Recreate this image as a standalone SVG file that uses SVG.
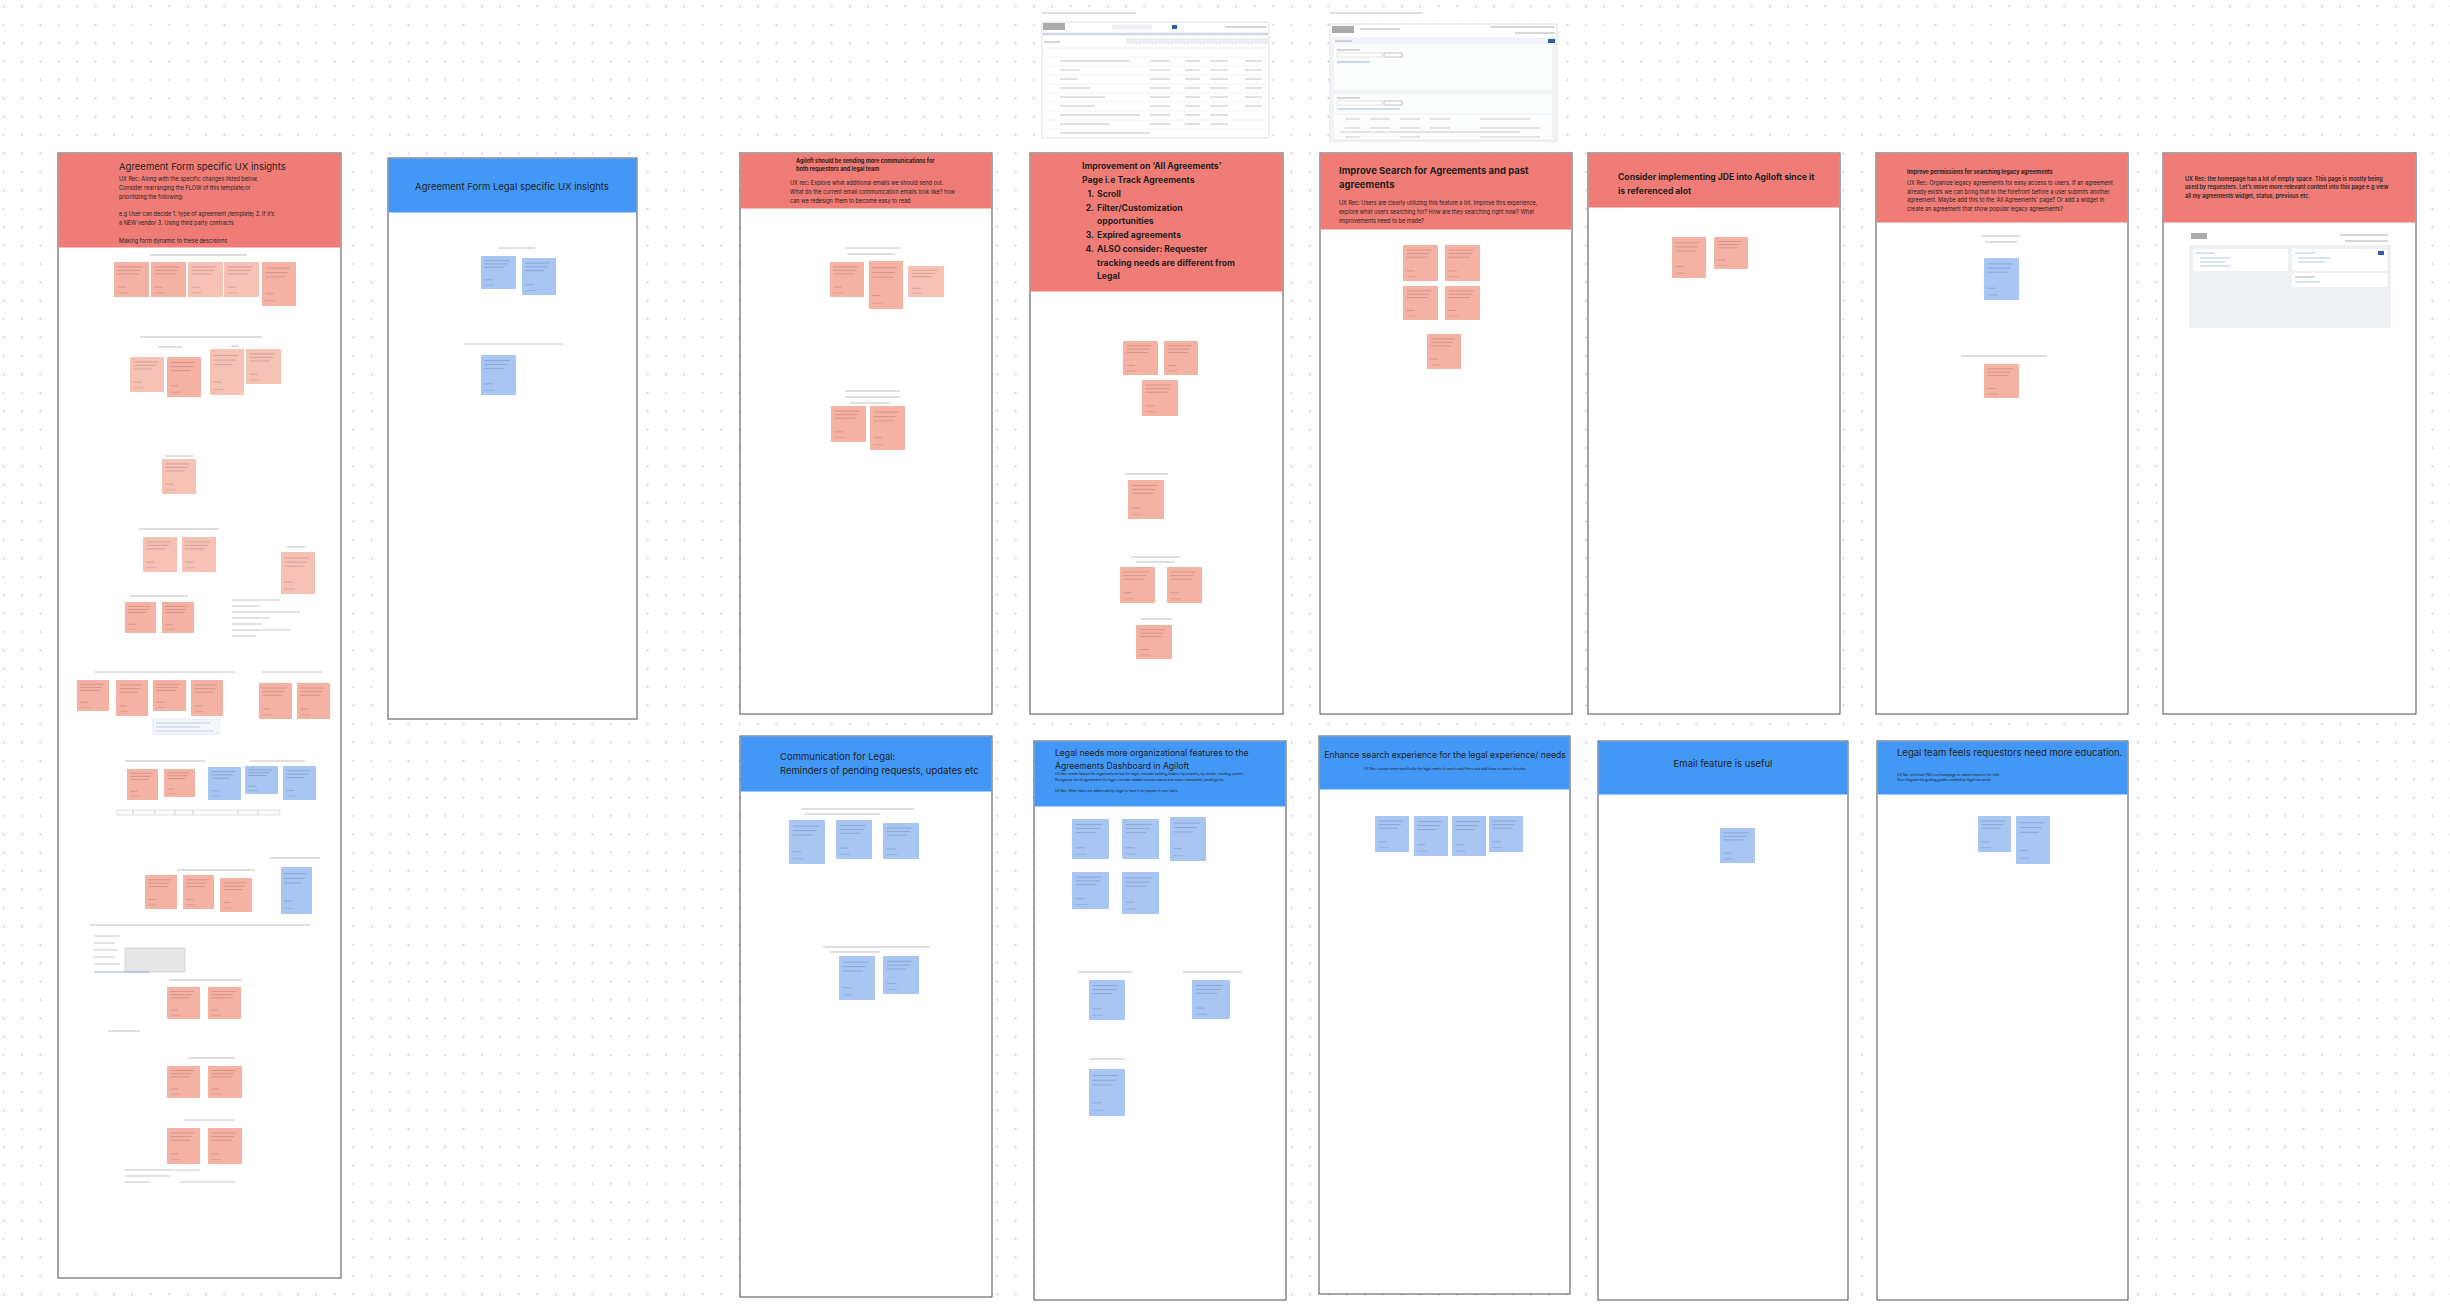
<svg xmlns="http://www.w3.org/2000/svg" xmlns:xlink="http://www.w3.org/1999/xlink" width="2450" height="1310" viewBox="0 0 2450 1310">
<style>
.frame{fill:#ffffff;stroke:#4d4d4d;stroke-width:1}
.hr{fill:#F07C77}
.hb{fill:#4398F6}
.t{font-family:Inter,'Liberation Sans',sans-serif;fill:#1e1e1e}
.h9{font-size:9.5px}
.h8{font-size:8.6px}
.s5{font-size:5.5px}
.s3{font-size:3.3px}
.bd{font-weight:700}
.sb{font-weight:600}
.cap{stroke:#8a8a8a;stroke-width:1;opacity:.55}
.ln{stroke:#9a9a9a;stroke-width:.8}
.sh{fill:#ffffff;stroke:#d8d8d8;stroke-width:.8}
</style>
<defs>
<pattern id="dots" x="-5.6" y="-2.9" width="18.4" height="18.4" patternUnits="userSpaceOnUse"><circle cx="9.2" cy="9.2" r="1" fill="#c4c4c4"/></pattern>
<symbol id="stR" viewBox="0 0 100 100" preserveAspectRatio="none"><rect x="0" y="0" width="100" height="100" fill="#F4B2A5"/><g stroke="#7a3f36" stroke-opacity=".35" vector-effect="non-scaling-stroke"><line x1="10" y1="14" x2="82" y2="14" vector-effect="non-scaling-stroke" stroke-width=".7"/><line x1="10" y1="24" x2="76" y2="24" vector-effect="non-scaling-stroke" stroke-width=".7"/><line x1="10" y1="34" x2="70" y2="34" vector-effect="non-scaling-stroke" stroke-width=".7"/><line x1="10" y1="72" x2="34" y2="72" vector-effect="non-scaling-stroke" stroke-width=".7"/><line x1="10" y1="88" x2="40" y2="88" vector-effect="non-scaling-stroke" stroke-width=".5"/></g></symbol>
<symbol id="stL" viewBox="0 0 100 100" preserveAspectRatio="none"><rect x="0" y="0" width="100" height="100" fill="#F6C2B6"/><g stroke="#7a3f36" stroke-opacity=".35"><line x1="10" y1="14" x2="82" y2="14" vector-effect="non-scaling-stroke" stroke-width=".7"/><line x1="10" y1="24" x2="76" y2="24" vector-effect="non-scaling-stroke" stroke-width=".7"/><line x1="10" y1="34" x2="66" y2="34" vector-effect="non-scaling-stroke" stroke-width=".7"/><line x1="10" y1="72" x2="34" y2="72" vector-effect="non-scaling-stroke" stroke-width=".7"/><line x1="10" y1="88" x2="40" y2="88" vector-effect="non-scaling-stroke" stroke-width=".5"/></g></symbol>
<symbol id="stB" viewBox="0 0 100 100" preserveAspectRatio="none"><rect x="0" y="0" width="100" height="100" fill="#A9C6F3"/><g stroke="#2d4a7a" stroke-opacity=".35"><line x1="10" y1="14" x2="82" y2="14" vector-effect="non-scaling-stroke" stroke-width=".7"/><line x1="10" y1="24" x2="76" y2="24" vector-effect="non-scaling-stroke" stroke-width=".7"/><line x1="10" y1="34" x2="66" y2="34" vector-effect="non-scaling-stroke" stroke-width=".7"/><line x1="10" y1="72" x2="34" y2="72" vector-effect="non-scaling-stroke" stroke-width=".7"/><line x1="10" y1="88" x2="40" y2="88" vector-effect="non-scaling-stroke" stroke-width=".5"/></g></symbol>
</defs>
<rect width="2450" height="1310" fill="#ffffff"/>
<rect width="2450" height="1310" fill="url(#dots)"/>

<!-- Top screenshots -->
<g id="screenshot-1">
<line class="cap" x1="1042" y1="13" x2="1136" y2="13"/>
<rect class="sh" x="1042" y="22" width="227" height="116"/>
<rect x="1043" y="23" width="22" height="7" fill="#555" opacity=".5"/>
<rect x="1112" y="25" width="40" height="4" fill="#eceef2"/>
<rect x="1172" y="25" width="5" height="4" fill="#2f5ea8"/>
<line class="ln" x1="1225" y1="27" x2="1267" y2="27"/>
<line x1="1043" y1="34" x2="1268" y2="34" stroke="#cfd6e2" stroke-width="2.5"/>
<g fill="#eef1f6" stroke="#c9cfd9" stroke-width=".5"><rect x="1127" y="39" width="14" height="4"/><rect x="1143" y="39" width="14" height="4"/><rect x="1159" y="39" width="14" height="4"/><rect x="1175" y="39" width="14" height="4"/><rect x="1191" y="39" width="14" height="4"/><rect x="1207" y="39" width="14" height="4"/><rect x="1223" y="39" width="14" height="4"/><rect x="1239" y="39" width="14" height="4"/><rect x="1255" y="39" width="12" height="4"/></g>
<line class="ln" x1="1044" y1="42" x2="1060" y2="42"/>
<line x1="1044" y1="48" x2="1268" y2="48" stroke="#ddd" stroke-width=".5"/>
<g stroke="#e6e6e6" stroke-width=".5"><line x1="1044" y1="57" x2="1268" y2="57"/><line x1="1044" y1="66" x2="1268" y2="66"/><line x1="1044" y1="75" x2="1268" y2="75"/><line x1="1044" y1="84" x2="1268" y2="84"/><line x1="1044" y1="93" x2="1268" y2="93"/><line x1="1044" y1="102" x2="1268" y2="102"/><line x1="1044" y1="111" x2="1268" y2="111"/><line x1="1044" y1="120" x2="1268" y2="120"/><line x1="1044" y1="129" x2="1268" y2="129"/></g>
<g stroke="#a8a8a8" stroke-width=".7"><line x1="1060" y1="61" x2="1130" y2="61"/><line x1="1060" y1="70" x2="1080" y2="70"/><line x1="1060" y1="79" x2="1078" y2="79"/><line x1="1060" y1="88" x2="1090" y2="88"/><line x1="1060" y1="97" x2="1105" y2="97"/><line x1="1060" y1="106" x2="1095" y2="106"/><line x1="1060" y1="115" x2="1140" y2="115"/><line x1="1060" y1="124" x2="1110" y2="124"/><line x1="1060" y1="133" x2="1150" y2="133"/><line x1="1150" y1="61" x2="1170" y2="61"/><line x1="1150" y1="70" x2="1170" y2="70"/><line x1="1150" y1="79" x2="1170" y2="79"/><line x1="1150" y1="88" x2="1170" y2="88"/><line x1="1150" y1="97" x2="1170" y2="97"/><line x1="1150" y1="106" x2="1170" y2="106"/><line x1="1150" y1="115" x2="1170" y2="115"/><line x1="1150" y1="124" x2="1170" y2="124"/><line x1="1185" y1="61" x2="1200" y2="61"/><line x1="1185" y1="70" x2="1200" y2="70"/><line x1="1185" y1="79" x2="1200" y2="79"/><line x1="1185" y1="88" x2="1200" y2="88"/><line x1="1185" y1="97" x2="1200" y2="97"/><line x1="1185" y1="106" x2="1200" y2="106"/><line x1="1185" y1="115" x2="1200" y2="115"/><line x1="1185" y1="124" x2="1200" y2="124"/><line x1="1210" y1="61" x2="1228" y2="61"/><line x1="1210" y1="70" x2="1228" y2="70"/><line x1="1210" y1="79" x2="1228" y2="79"/><line x1="1210" y1="88" x2="1228" y2="88"/><line x1="1210" y1="97" x2="1228" y2="97"/><line x1="1210" y1="106" x2="1228" y2="106"/><line x1="1210" y1="115" x2="1228" y2="115"/><line x1="1210" y1="124" x2="1228" y2="124"/><line x1="1245" y1="61" x2="1262" y2="61"/><line x1="1245" y1="70" x2="1262" y2="70"/><line x1="1245" y1="79" x2="1262" y2="79"/><line x1="1245" y1="88" x2="1262" y2="88"/><line x1="1245" y1="97" x2="1262" y2="97"/><line x1="1245" y1="106" x2="1262" y2="106"/></g>
</g>
<g id="screenshot-2">
<line class="cap" x1="1330" y1="13" x2="1423" y2="13"/>
<rect class="sh" x="1330" y="24" width="227" height="117"/>
<rect x="1332" y="26" width="22" height="7" fill="#555" opacity=".5"/>
<line class="ln" x1="1360" y1="29" x2="1400" y2="29"/>
<line class="ln" x1="1490" y1="27" x2="1555" y2="27"/>
<line class="ln" x1="1515" y1="33" x2="1555" y2="33"/>
<rect x="1331" y="37" width="225" height="103" fill="#f1f3f8"/>
<line class="ln" x1="1335" y1="41" x2="1352" y2="41"/>
<rect x="1548" y="39" width="7" height="4" fill="#2f5ea8"/>
<rect x="1334" y="44" width="218" height="46" fill="#ffffff" opacity=".8"/>
<line class="ln" x1="1337" y1="50" x2="1360" y2="50"/>
<rect x="1337" y="53" width="45" height="4" fill="#fff" stroke="#ccc" stroke-width=".5"/>
<rect x="1384" y="53" width="18" height="4" fill="#fff" stroke="#888" stroke-width=".5"/>
<line x1="1337" y1="62" x2="1370" y2="62" stroke="#6c8fd0" stroke-width=".7"/>
<rect x="1334" y="94" width="218" height="45" fill="#ffffff" opacity=".8"/>
<line class="ln" x1="1337" y1="98" x2="1360" y2="98"/>
<rect x="1337" y="101" width="45" height="4" fill="#fff" stroke="#ccc" stroke-width=".5"/>
<rect x="1384" y="101" width="18" height="4" fill="#fff" stroke="#888" stroke-width=".5"/>
<line x1="1337" y1="109" x2="1400" y2="109" stroke="#6c8fd0" stroke-width=".6"/>
<line x1="1335" y1="114" x2="1552" y2="114" stroke="#ddd" stroke-width=".5"/>
<g stroke="#a8a8a8" stroke-width=".6"><line x1="1345" y1="119" x2="1360" y2="119"/><line x1="1370" y1="119" x2="1390" y2="119"/><line x1="1400" y1="119" x2="1420" y2="119"/><line x1="1430" y1="119" x2="1450" y2="119"/><line x1="1480" y1="119" x2="1530" y2="119"/><line x1="1345" y1="128" x2="1360" y2="128"/><line x1="1370" y1="128" x2="1390" y2="128"/><line x1="1400" y1="128" x2="1420" y2="128"/><line x1="1430" y1="128" x2="1450" y2="128"/><line x1="1480" y1="128" x2="1540" y2="128"/><line x1="1340" y1="132" x2="1520" y2="132"/><line x1="1345" y1="137" x2="1360" y2="137"/><line x1="1400" y1="137" x2="1420" y2="137"/><line x1="1480" y1="137" x2="1540" y2="137"/></g>
</g>

<!-- Column 1 -->
<g id="frame-agreement-form">
<rect class="frame" x="58" y="153" width="283" height="1125"/>
<rect class="hr" x="58.5" y="153.5" width="282" height="94"/>
<text class="t h9" x="119" y="170">Agreement Form specific UX insights</text>
<text class="t s5" x="119" y="181">UX Rec: Along with the specific changes listed below,</text>
<text class="t s5" x="119" y="190">Consider rearranging the FLOW of this template/or</text>
<text class="t s5" x="119" y="199">prioritizing the following:</text>
<text class="t s5" x="119" y="216">e.g User can decide 1. type of agreement (template) 2. If it’s</text>
<text class="t s5" x="119" y="225">a NEW vendor 3. Using third party contracts</text>
<text class="t s5" x="119" y="243">Making form dynamic to these descisions</text>
<g class="caps">
<line class="cap" x1="150" y1="255" x2="247" y2="255"/>
<line class="cap" x1="140" y1="337" x2="262" y2="337"/>
<line class="cap" x1="158" y1="347" x2="182" y2="347"/>
<line class="cap" x1="231" y1="346" x2="239" y2="346"/>
<line class="cap" x1="165" y1="456" x2="193" y2="456"/>
<line class="cap" x1="139" y1="529" x2="219" y2="529"/>
<line class="cap" x1="287" y1="547" x2="305" y2="547"/>
<line class="cap" x1="130" y1="596" x2="188" y2="596"/>
<line class="cap" x1="95" y1="672" x2="235" y2="672"/>
<line class="cap" x1="262" y1="672" x2="322" y2="672"/>
<line class="cap" x1="125" y1="761" x2="205" y2="761"/>
<line class="cap" x1="250" y1="761" x2="305" y2="761"/>
<line class="cap" x1="177" y1="870" x2="255" y2="870"/>
<line class="cap" x1="270" y1="858" x2="320" y2="858"/>
<line class="cap" x1="90" y1="925" x2="310" y2="925"/>
<line class="cap" x1="169" y1="980" x2="242" y2="980"/>
<line class="cap" x1="108" y1="1031" x2="140" y2="1031"/>
<line class="cap" x1="188" y1="1058" x2="235" y2="1058"/>
<line class="cap" x1="184" y1="1120" x2="235" y2="1120"/>
</g>
<use href="#stR" x="114" y="262" width="35" height="35"/>
<use href="#stR" x="151" y="262" width="35" height="35"/>
<use href="#stL" x="188" y="262" width="35" height="35"/>
<use href="#stL" x="224" y="262" width="35" height="35"/>
<use href="#stR" x="262" y="262" width="34" height="44"/>
<use href="#stL" x="130" y="357" width="34" height="35"/>
<use href="#stR" x="167" y="357" width="34" height="40"/>
<use href="#stL" x="210" y="349" width="34" height="46"/>
<use href="#stL" x="246" y="349" width="35" height="35"/>
<use href="#stL" x="162" y="459" width="34" height="35"/>
<use href="#stL" x="143" y="537" width="34" height="35"/>
<use href="#stL" x="182" y="537" width="34" height="35"/>
<use href="#stL" x="281" y="552" width="34" height="42"/>
<use href="#stR" x="125" y="602" width="31" height="31"/>
<use href="#stR" x="162" y="602" width="32" height="31"/>
<g stroke="#b0b0b0" stroke-width=".7"><line x1="232" y1="600" x2="280" y2="600"/><line x1="232" y1="606" x2="260" y2="606"/><line x1="232" y1="612" x2="300" y2="612"/><line x1="232" y1="618" x2="270" y2="618"/><line x1="232" y1="624" x2="262" y2="624"/><line x1="232" y1="630" x2="290" y2="630"/><line x1="232" y1="636" x2="256" y2="636"/></g>
<use href="#stR" x="77" y="680" width="32" height="31"/>
<use href="#stR" x="116" y="680" width="32" height="36"/>
<use href="#stR" x="153" y="680" width="33" height="31"/>
<use href="#stR" x="191" y="680" width="32" height="36"/>
<rect x="153" y="719" width="66" height="15" fill="#f4f6fa" stroke="#c8d2e4" stroke-width=".5"/>
<g stroke="#9fb4d8" stroke-width=".6"><line x1="156" y1="723" x2="210" y2="723"/><line x1="156" y1="727" x2="200" y2="727"/><line x1="156" y1="731" x2="214" y2="731"/></g>
<use href="#stR" x="259" y="683" width="33" height="36"/>
<use href="#stR" x="297" y="683" width="33" height="36"/>
<use href="#stR" x="127" y="769" width="31" height="31"/>
<use href="#stR" x="164" y="769" width="31" height="28"/>
<use href="#stB" x="208" y="767" width="33" height="33"/>
<use href="#stB" x="245" y="766" width="33" height="28"/>
<use href="#stB" x="283" y="766" width="33" height="34"/>
<g fill="#fafafa" stroke="#c4c4c4" stroke-width=".5"><rect x="117" y="810" width="16" height="5"/><rect x="133" y="810" width="22" height="5"/><rect x="155" y="810" width="20" height="5"/><rect x="175" y="810" width="18" height="5"/><rect x="193" y="810" width="45" height="5"/><rect x="238" y="810" width="20" height="5"/><rect x="258" y="810" width="22" height="5"/></g>
<use href="#stR" x="145" y="875" width="32" height="34"/>
<use href="#stR" x="183" y="875" width="31" height="34"/>
<use href="#stR" x="220" y="878" width="32" height="34"/>
<use href="#stB" x="281" y="867" width="31" height="47"/>
<g stroke="#b0b0b0" stroke-width=".7"><line x1="94" y1="936" x2="120" y2="936"/><line x1="94" y1="943" x2="115" y2="943"/><line x1="94" y1="950" x2="118" y2="950"/><line x1="94" y1="957" x2="114" y2="957"/><line x1="94" y1="964" x2="120" y2="964"/></g>
<rect x="125" y="948" width="60" height="24" fill="#e6e6e6" stroke="#bdbdbd" stroke-width=".5"/>
<line x1="94" y1="972" x2="150" y2="972" stroke="#6c8fd0" stroke-width=".7"/>
<use href="#stR" x="167" y="987" width="33" height="32"/>
<use href="#stR" x="208" y="987" width="33" height="32"/>
<use href="#stR" x="167" y="1066" width="33" height="32"/>
<use href="#stR" x="208" y="1066" width="34" height="32"/>
<use href="#stR" x="167" y="1128" width="33" height="36"/>
<use href="#stR" x="208" y="1128" width="34" height="36"/>
<g stroke="#b0b0b0" stroke-width=".7"><line x1="125" y1="1170" x2="200" y2="1170"/><line x1="125" y1="1176" x2="170" y2="1176"/><line x1="125" y1="1182" x2="150" y2="1182"/><line x1="180" y1="1182" x2="235" y2="1182"/></g>
</g>

<!-- Column 2 -->
<g id="frame-legal-form">
<rect class="frame" x="388" y="158" width="249" height="561"/>
<rect class="hb" x="388.5" y="158.5" width="248" height="54"/>
<text class="t h9" x="512" y="190" text-anchor="middle">Agreement Form Legal specific UX insights</text>
<line class="cap" x1="498" y1="248" x2="535" y2="248"/>
<use href="#stB" x="481" y="256" width="35" height="33"/>
<use href="#stB" x="522" y="258" width="34" height="37"/>
<line class="cap" x1="464" y1="344" x2="563" y2="344"/>
<use href="#stB" x="481" y="355" width="35" height="40"/>
</g>

<!-- Column 3 -->
<g id="frame-communications">
<rect class="frame" x="740" y="153" width="252" height="561"/>
<rect class="hr" x="740.5" y="153.5" width="251" height="55"/>
<text class="t s5 bd" x="796" y="163">Agiloft should be sending more communications for</text>
<text class="t s5 bd" x="796" y="171">both requestors and legal team</text>
<text class="t s5" x="790" y="185">UX rec: Explore what additional emails we should send out.</text>
<text class="t s5" x="790" y="194">What do the current email communication emails look like? how</text>
<text class="t s5" x="790" y="203">can we redesign them to become easy to read</text>
<line class="cap" x1="845" y1="248" x2="900" y2="248"/>
<line class="cap" x1="848" y1="254" x2="895" y2="254"/>
<use href="#stR" x="830" y="262" width="34" height="35"/>
<use href="#stR" x="869" y="261" width="34" height="48"/>
<use href="#stL" x="908" y="266" width="36" height="31"/>
<line class="cap" x1="845" y1="391" x2="900" y2="391"/>
<line class="cap" x1="845" y1="397" x2="900" y2="397"/>
<line class="cap" x1="850" y1="403" x2="890" y2="403"/>
<use href="#stR" x="831" y="406" width="35" height="36"/>
<use href="#stR" x="870" y="406" width="35" height="44"/>
</g>

<!-- Column 4 -->
<g id="frame-all-agreements">
<rect class="frame" x="1030" y="153" width="253" height="561"/>
<rect class="hr" x="1030.5" y="153.5" width="252" height="138"/>
<text class="t h8 bd" x="1082" y="169">Improvement on ‘All Agreements’</text>
<text class="t h8 bd" x="1082" y="183">Page i.e Track Agreements</text>
<text class="t h8 bd" x="1094" y="197" text-anchor="end">1.</text><text class="t h8 bd" x="1097" y="197">Scroll</text>
<text class="t h8 bd" x="1094" y="211" text-anchor="end">2.</text><text class="t h8 bd" x="1097" y="211">Filter/Customization</text>
<text class="t h8 bd" x="1097" y="224">opportunities</text>
<text class="t h8 bd" x="1094" y="238" text-anchor="end">3.</text><text class="t h8 bd" x="1097" y="238">Expired agreements</text>
<text class="t h8 bd" x="1094" y="252" text-anchor="end">4.</text><text class="t h8 bd" x="1097" y="252">ALSO consider: Requester</text>
<text class="t h8 bd" x="1097" y="266">tracking needs are different from</text>
<text class="t h8 bd" x="1097" y="279">Legal</text>
<use href="#stR" x="1123" y="341" width="35" height="34"/>
<use href="#stR" x="1164" y="341" width="34" height="34"/>
<use href="#stR" x="1142" y="380" width="36" height="36"/>
<line class="cap" x1="1125" y1="474" x2="1168" y2="474"/>
<use href="#stR" x="1128" y="480" width="36" height="39"/>
<line class="cap" x1="1131" y1="557" x2="1180" y2="557"/>
<line class="cap" x1="1136" y1="562" x2="1175" y2="562"/>
<use href="#stR" x="1120" y="567" width="35" height="36"/>
<use href="#stR" x="1167" y="567" width="35" height="36"/>
<line class="cap" x1="1141" y1="619" x2="1172" y2="619"/>
<use href="#stR" x="1136" y="625" width="36" height="34"/>
</g>

<!-- Column 5 -->
<g id="frame-search">
<rect class="frame" x="1320" y="153" width="252" height="561"/>
<rect class="hr" x="1320.5" y="153.5" width="251" height="76"/>
<text class="t h9 bd" x="1339" y="174">Improve Search for Agreements and past</text>
<text class="t h9 bd" x="1339" y="188">agreements</text>
<text class="t s5" x="1339" y="205">UX Rec: Users are clearly utilizing this feature a lot. Improve this experience,</text>
<text class="t s5" x="1339" y="214">explore what users searching for? How are they searching right now? What</text>
<text class="t s5" x="1339" y="223">improvements need to be made?</text>
<use href="#stR" x="1403" y="245" width="35" height="36"/>
<use href="#stR" x="1445" y="245" width="35" height="36"/>
<use href="#stR" x="1403" y="286" width="35" height="34"/>
<use href="#stR" x="1445" y="286" width="35" height="34"/>
<use href="#stR" x="1427" y="334" width="34" height="35"/>
</g>

<!-- Column 6 -->
<g id="frame-jde">
<rect class="frame" x="1588" y="153" width="252" height="561"/>
<rect class="hr" x="1588.5" y="153.5" width="251" height="54"/>
<text class="t h8 bd" x="1618" y="180">Consider implementing JDE into Agiloft since it</text>
<text class="t h8 bd" x="1618" y="194">is referenced alot</text>
<use href="#stR" x="1672" y="237" width="34" height="41"/>
<use href="#stR" x="1714" y="237" width="34" height="32"/>
</g>

<!-- Column 7 -->
<g id="frame-permissions">
<rect class="frame" x="1876" y="153" width="252" height="561"/>
<rect class="hr" x="1876.5" y="153.5" width="251" height="69"/>
<text class="t s5 bd" x="1907" y="174">Improve permissions for searching legacy agreements</text>
<text class="t s5" x="1907" y="185">UX Rec: Organize legacy agreements for easy access to users. If an agreement</text>
<text class="t s5" x="1907" y="194">already exists we can bring that to the forefront before a user submits another</text>
<text class="t s5" x="1907" y="202">agreement. Maybe add this to the ‘All Agreements’ page? Or add a widget in</text>
<text class="t s5" x="1907" y="211">create an agreement that show popular legacy agreements?</text>
<line class="cap" x1="1981" y1="236" x2="2021" y2="236"/>
<line class="cap" x1="1985" y1="242" x2="2017" y2="242"/>
<use href="#stB" x="1984" y="258" width="35" height="42"/>
<line class="cap" x1="1961" y1="356" x2="2047" y2="356"/>
<use href="#stR" x="1984" y="364" width="35" height="34"/>
</g>

<!-- Column 8 -->
<g id="frame-homepage">
<rect class="frame" x="2163" y="153" width="253" height="561"/>
<rect class="hr" x="2163.5" y="153.5" width="252" height="69"/>
<text class="t s5 sb" x="2185" y="181">UX Rec: the homepage has a lot of empty space. This page is mostly being</text>
<text class="t s5 sb" x="2185" y="189">used by requesters. Let’s move more relevant content into this page e.g view</text>
<text class="t s5 sb" x="2185" y="198">all my agreements widget, status, previous etc.</text>
<rect x="2189" y="231" width="202" height="97" fill="#eef0f4"/>
<rect x="2189" y="231" width="202" height="14" fill="#ffffff"/>
<rect x="2191" y="233" width="16" height="6" fill="#555" opacity=".5"/>
<line class="ln" x1="2340" y1="235" x2="2388" y2="235"/>
<line class="ln" x1="2345" y1="241" x2="2388" y2="241"/>
<rect x="2193" y="249" width="95" height="22" fill="#ffffff"/>
<rect x="2292" y="249" width="95" height="22" fill="#ffffff"/>
<g stroke="#7d9fd8" stroke-width=".6"><line x1="2196" y1="253" x2="2215" y2="253"/><line x1="2200" y1="258" x2="2230" y2="258"/><line x1="2200" y1="262" x2="2225" y2="262"/><line x1="2200" y1="266" x2="2230" y2="266"/><line x1="2295" y1="253" x2="2315" y2="253"/><line x1="2298" y1="258" x2="2330" y2="258"/><line x1="2298" y1="262" x2="2325" y2="262"/></g>
<rect x="2378" y="251" width="6" height="4" fill="#2f5ea8"/>
<rect x="2292" y="273" width="95" height="14" fill="#ffffff"/>
<line class="ln" x1="2295" y1="277" x2="2315" y2="277"/>
<line x1="2295" y1="282" x2="2320" y2="282" stroke="#7d9fd8" stroke-width=".6"/>
</g>

<!-- Bottom row -->
<g id="frame-communication-legal">
<rect class="frame" x="740" y="736" width="252" height="561"/>
<rect class="hb" x="740.5" y="736.5" width="251" height="55"/>
<text class="t h9" x="780" y="760">Communication for Legal:</text>
<text class="t h9" x="780" y="774">Reminders of pending requests, updates etc</text>
<line class="cap" x1="801" y1="809" x2="914" y2="809"/>
<line class="cap" x1="805" y1="814" x2="880" y2="814"/>
<use href="#stB" x="789" y="820" width="36" height="44"/>
<use href="#stB" x="836" y="820" width="36" height="39"/>
<use href="#stB" x="883" y="823" width="36" height="36"/>
<line class="cap" x1="823" y1="947" x2="930" y2="947"/>
<line class="cap" x1="830" y1="952" x2="880" y2="952"/>
<use href="#stB" x="839" y="956" width="36" height="44"/>
<use href="#stB" x="883" y="956" width="36" height="38"/>
</g>

<g id="frame-organizational">
<rect class="frame" x="1034" y="741" width="252" height="559"/>
<rect class="hb" x="1034.5" y="741.5" width="251" height="65"/>
<text class="t h8" x="1055" y="756">Legal needs more organizational features to the</text>
<text class="t h8" x="1055" y="769">Agreements Dashboard in Agiloft</text>
<text class="t s3" x="1055" y="775">UX Rec: create feature for organizational tool for legal, consider building folders: by property, by vendor, tracking system,</text>
<text class="t s3" x="1055" y="781">Reorganize the all agreements for legal, consider added contract queue and status (completed, pending) etc.</text>
<text class="t s3" x="1055" y="792">UX Rec: When tasks are addressed by Legal to have it not appear in your tasks</text>
<use href="#stB" x="1072" y="819" width="37" height="40"/>
<use href="#stB" x="1122" y="819" width="37" height="40"/>
<use href="#stB" x="1170" y="817" width="36" height="44"/>
<use href="#stB" x="1072" y="872" width="37" height="37"/>
<use href="#stB" x="1122" y="872" width="37" height="42"/>
<line class="cap" x1="1078" y1="972" x2="1133" y2="972"/>
<line class="cap" x1="1183" y1="972" x2="1242" y2="972"/>
<use href="#stB" x="1089" y="980" width="36" height="40"/>
<use href="#stB" x="1192" y="980" width="38" height="39"/>
<line class="cap" x1="1089" y1="1059" x2="1125" y2="1059"/>
<use href="#stB" x="1089" y="1069" width="36" height="47"/>
</g>

<g id="frame-enhance-search">
<rect class="frame" x="1319" y="736" width="251" height="558"/>
<rect class="hb" x="1319.5" y="736.5" width="250" height="53"/>
<text class="t h8" x="1445" y="758" text-anchor="middle">Enhance search experience for the legal experience/ needs</text>
<text class="t s3" x="1445" y="770" text-anchor="middle">UX Rec: custom more specifically the legal needs of search and filters and add those to search function</text>
<use href="#stB" x="1375" y="816" width="34" height="36"/>
<use href="#stB" x="1414" y="816" width="34" height="40"/>
<use href="#stB" x="1452" y="816" width="34" height="40"/>
<use href="#stB" x="1489" y="816" width="34" height="36"/>
</g>

<g id="frame-email">
<rect class="frame" x="1598" y="741" width="250" height="559"/>
<rect class="hb" x="1598.5" y="741.5" width="249" height="53"/>
<text class="t h9" x="1723" y="767" text-anchor="middle">Email feature is useful</text>
<use href="#stB" x="1720" y="828" width="35" height="35"/>
</g>

<g id="frame-education">
<rect class="frame" x="1877" y="741" width="251" height="559"/>
<rect class="hb" x="1877.5" y="741.5" width="250" height="53"/>
<text class="t h9" x="1897" y="756">Legal team feels requestors need more education.</text>
<text class="t s3" x="1897" y="776">UX Rec: prioritize FAQ’s on homepage to reduce requests for help</text>
<text class="t s3" x="1897" y="781">Also integrate the guiding guides created by legal into portal</text>
<use href="#stB" x="1978" y="816" width="33" height="36"/>
<use href="#stB" x="2016" y="816" width="34" height="48"/>
</g>
<g id="connectors"></g>
</svg>
